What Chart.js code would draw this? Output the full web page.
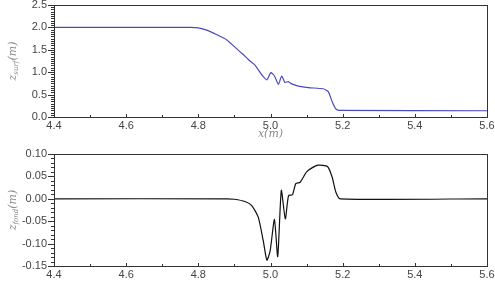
<!DOCTYPE html>
<html><head><meta charset="utf-8">
<script src="https://cdn.jsdelivr.net/npm/chart.js@4/dist/chart.umd.min.js"></script>
<style>
html,body{margin:0;padding:0;background:#fff;}
#w1{position:absolute;left:0;top:0;width:495px;height:140px;}
#w2{position:absolute;left:0;top:140px;width:495px;height:142px;}
</style></head><body>
<div id="w1"><canvas id="c1"></canvas></div>
<div id="w2"><canvas id="c2"></canvas></div>
<script>
const xSurf = [4.4, 4.78, 4.80, 4.823, 4.85, 4.879, 4.90, 4.915, 4.929, 4.943, 4.957, 4.976, 4.99, 5.001, 5.011, 5.022, 5.031, 5.040, 5.049, 5.059, 5.077, 5.105, 5.146, 5.16, 5.171, 5.181, 5.19, 5.6];
const zSurf = [2.0, 2.0, 1.99, 1.94, 1.84, 1.72, 1.57, 1.46, 1.36, 1.25, 1.16, 0.94, 0.83, 0.99, 0.915, 0.73, 0.915, 0.77, 0.79, 0.74, 0.69, 0.655, 0.63, 0.565, 0.34, 0.18, 0.15, 0.14];
const xBed = [4.4, 4.88, 4.90, 4.929, 4.948, 4.966, 4.98, 4.99, 4.999, 5.011, 5.020, 5.030, 5.041, 5.050, 5.061, 5.070, 5.082, 5.100, 5.115, 5.132, 5.158, 5.171, 5.181, 5.193, 5.6];
const zBed = [0, 0, -0.001, -0.006, -0.015, -0.041, -0.094, -0.137, -0.116, -0.046, -0.129, 0.019, -0.045, 0.007, 0.009, 0.034, 0.037, 0.060, 0.069, 0.075, 0.072, 0.048, 0.015, 0.0, 0.0];
const xTicks = [4.4, 4.6, 4.8, 5.0, 5.2, 5.4, 5.6];
const ySurfTicks = [0.0, 0.5, 1.0, 1.5, 2.0, 2.5];
const yBedTicks = [-0.15, -0.10, -0.05, 0.00, 0.05, 0.10];

const tickFont = {family: "'Liberation Sans', Arial, sans-serif", size: 11};
const tickColor = '#444';

function framePlugin(opts) {
  return {
    id: 'frame' + opts.id,
    afterDraw(chart) {
      const {ctx, chartArea: a, scales} = chart;
      const xs = scales.x, ys = scales.y;
      ctx.save();
      ctx.strokeStyle = '#333';
      ctx.lineWidth = 1;
      ctx.strokeRect(Math.round(a.left) + 0.5, Math.round(a.top) + 0.5, Math.round(a.right - a.left), Math.round(a.bottom - a.top));
      ctx.beginPath();
      const ymin = ys.min, ymax = ys.max;
      const n = Math.round((ymax - ymin) / opts.yMinor);
      for (let i = 0; i <= n; i++) {
        const v = ymin + i * opts.yMinor;
        const p = Math.round(ys.getPixelForValue(v)) + 0.5;
        const major = Math.abs((v - ymin) / opts.yMajor - Math.round((v - ymin) / opts.yMajor)) < 1e-6;
        const len = major ? 6 : 3;
        ctx.moveTo(Math.round(a.left), p);
        ctx.lineTo(Math.round(a.left) - len, p);
      }
      for (let i = 0; i <= 12; i++) {
        const v = 4.4 + i * 0.1;
        const p = Math.round(xs.getPixelForValue(v)) + 0.5;
        const len = (i % 2 === 0) ? 3 : 2;
        ctx.moveTo(p, Math.round(a.bottom));
        ctx.lineTo(p, Math.round(a.bottom) - len);
      }
      ctx.stroke();
      ctx.fillStyle = '#8a8a8a';
      ctx.translate(opts.titleX, (a.top + a.bottom) / 2);
      ctx.rotate(-Math.PI / 2);
      const f1 = "italic 11px 'DejaVu Serif', 'Liberation Serif', serif";
      const f2 = "italic 7px 'DejaVu Serif', 'Liberation Serif', serif";
      ctx.font = f1; const w1 = ctx.measureText('z').width; const w3 = ctx.measureText('(m)').width;
      ctx.font = f2; const w2 = ctx.measureText(opts.sub).width;
      let x0 = -(w1 + w2 + w3) / 2;
      ctx.textBaseline = 'middle';
      ctx.font = f1; ctx.fillText('z', x0, 0);
      ctx.font = f2; ctx.fillText(opts.sub, x0 + w1, 3);
      ctx.font = f1; ctx.fillText('(m)', x0 + w1 + w2, 0);
      ctx.restore();
      if (opts.xTitle) {
        ctx.save();
        ctx.fillStyle = '#8a8a8a';
        ctx.font = "italic 11px 'DejaVu Serif', 'Liberation Serif', serif";
        ctx.textAlign = 'center';
        ctx.textBaseline = 'middle';
        ctx.fillText('x(m)', (a.left + a.right) / 2, 134);
        ctx.restore();
      }
    }
  };
}

function makeChart(id, xArr, yArr, color, yMin, yMax, yTicks, dec, padTop, xAxisH, opts) {
  return new Chart(document.getElementById(id), {
    type: 'line',
    data: {
      datasets: [{
        data: xArr.map((x, i) => ({x: x, y: yArr[i]})),
        borderColor: color,
        borderWidth: 1.2,
        pointRadius: 0,
        tension: 0.2,
        fill: false
      }]
    },
    options: {
      responsive: true,
      maintainAspectRatio: false,
      animation: false,
      layout: {padding: {top: padTop, right: 8, left: 0, bottom: 0}},
      plugins: {legend: {display: false}, tooltip: {enabled: false}},
      scales: {
        x: {
          type: 'linear', min: 4.4, max: 5.6,
          afterBuildTicks: s => { s.ticks = xTicks.map(v => ({value: v})); },
          afterFit: s => { s.height = xAxisH; s.paddingLeft = 0; s.paddingRight = 0; },
          grid: {display: false, drawTicks: false},
          border: {display: false},
          ticks: {font: tickFont, color: tickColor, padding: 2, maxRotation: 0,
                  callback: v => Number(v).toFixed(1)}
        },
        y: {
          type: 'linear', min: yMin, max: yMax,
          afterBuildTicks: s => { s.ticks = yTicks.map(v => ({value: v})); },
          afterFit: s => { s.width = 54; s.paddingTop = 0; s.paddingBottom = 0; },
          grid: {display: false, drawTicks: false},
          border: {display: false},
          ticks: {font: tickFont, color: tickColor, padding: 7,
                  callback: v => Number(v).toFixed(dec)}
        }
      }
    },
    plugins: [framePlugin(opts)]
  });
}

makeChart('c1', xSurf, zSurf, '#4a4ac0', 0, 2.5, ySurfTicks, 1, 5, 23,
  {id: 1, yMinor: 0.05, yMajor: 0.5, titleX: 13, sub: 'surf', xTitle: true});
makeChart('c2', xBed, zBed, '#111', -0.15, 0.10, yBedTicks, 2, 14, 16,
  {id: 2, yMinor: 0.01, yMajor: 0.05, titleX: 13, sub: 'fond', xTitle: false});
</script>
</body></html>
